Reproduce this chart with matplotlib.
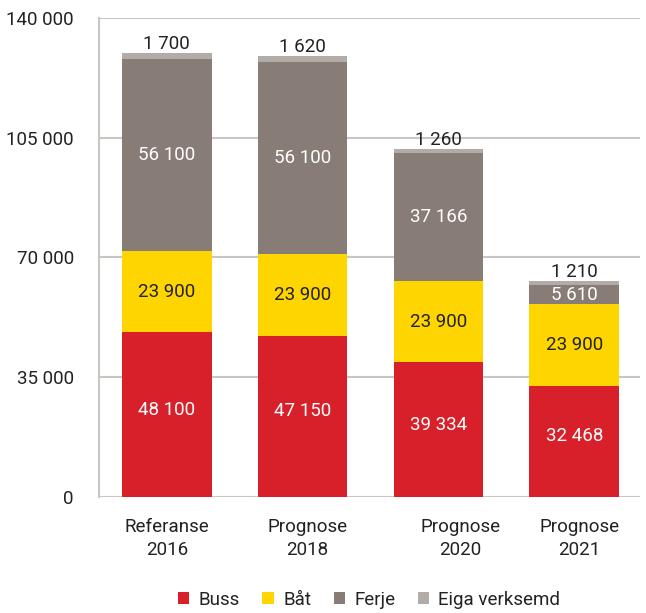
import matplotlib.pyplot as plt
import matplotlib.transforms as mtransforms
import numpy as np

# Data
categories = ['Referanse\n2016', 'Prognose\n2018', 'Prognose\n2020', 'Prognose\n2021']
buss = [48100, 47150, 39334, 32468]
bat = [23900, 23900, 23900, 23900]
ferje = [56100, 56100, 37166, 5610]
eiga = [1700, 1620, 1260, 1210]

colors = {'Buss': '#D7202A', 'Båt': '#FFD500', 'Ferje': '#877D76', 'Eiga verksemd': '#B1ACA7'}

plt.rcParams['font.family'] = ['Roboto', 'DejaVu Sans']

fig = plt.figure(figsize=(6.46, 6.13), dpi=100)
ax = fig.add_axes([0.153, 0.189, 0.837, 0.782])

x = np.arange(len(categories))
w = 0.66
b1 = np.array(buss)
b2 = b1 + np.array(bat)
b3 = b2 + np.array(ferje)

ax.bar(x, buss, w, color=colors['Buss'], label='Buss', zorder=3)
ax.bar(x, bat, w, bottom=b1, color=colors['Båt'], label='Båt', zorder=3)
ax.bar(x, ferje, w, bottom=b2, color=colors['Ferje'], label='Ferje', zorder=3)
ax.bar(x, eiga, w, bottom=b3, color=colors['Eiga verksemd'], label='Eiga verksemd', zorder=3)

def fmt(v):
    return f'{v:,}'.replace(',', ' ')

fs = 13.5
for i in range(len(x)):
    ax.text(x[i], buss[i] / 2 + 1500, fmt(buss[i]), ha='center', va='center', color='white', fontsize=fs, zorder=4)
    ax.text(x[i], b1[i] + bat[i] / 2, fmt(bat[i]), ha='center', va='center', color='#222222', fontsize=fs, zorder=4)
    ax.text(x[i], b2[i] + ferje[i] / 2, fmt(ferje[i]), ha='center', va='center', color='white', fontsize=fs, zorder=4)
    ax.text(x[i], b3[i] + eiga[i], fmt(eiga[i]), ha='center', va='bottom', color='#222222', fontsize=fs, zorder=4)

ax.set_ylim(0, 140000)
ax.set_xlim(-0.5, 3.48)
yt = [0, 35000, 70000, 105000, 140000]
ax.set_yticks(yt)
ax.set_yticklabels([fmt(v) for v in yt], fontsize=fs, color='#222222')
ax.set_xticks(x)
ax.set_xticklabels(categories, fontsize=fs, color='#222222', linespacing=1.35)
ax.tick_params(axis='y', length=0, pad=18)
ax.tick_params(axis='x', length=0, pad=15)
ax.yaxis.grid(True, color='#C9C5C1', linewidth=1.5, zorder=0)

# small horizontal shifts of the category labels, as in the original
shifts = [0, 5, 22, 5]
for lab, s in zip(ax.get_xticklabels(), shifts):
    lab.set_transform(lab.get_transform() + mtransforms.ScaledTranslation(s / 100, 0, fig.dpi_scale_trans))

for s in ['top', 'right', 'bottom']:
    ax.spines[s].set_visible(False)
ax.spines['left'].set_color('#C9C5C1')
ax.spines['left'].set_linewidth(1.5)

ax.legend(loc='upper center', bbox_to_anchor=(0.5, -0.16), ncol=4, frameon=False,
          fontsize=fs, handlelength=0.6, handleheight=0.6, handletextpad=0.5, columnspacing=1.2,
          labelcolor='#222222')

fig.savefig('out.png', dpi=100)
